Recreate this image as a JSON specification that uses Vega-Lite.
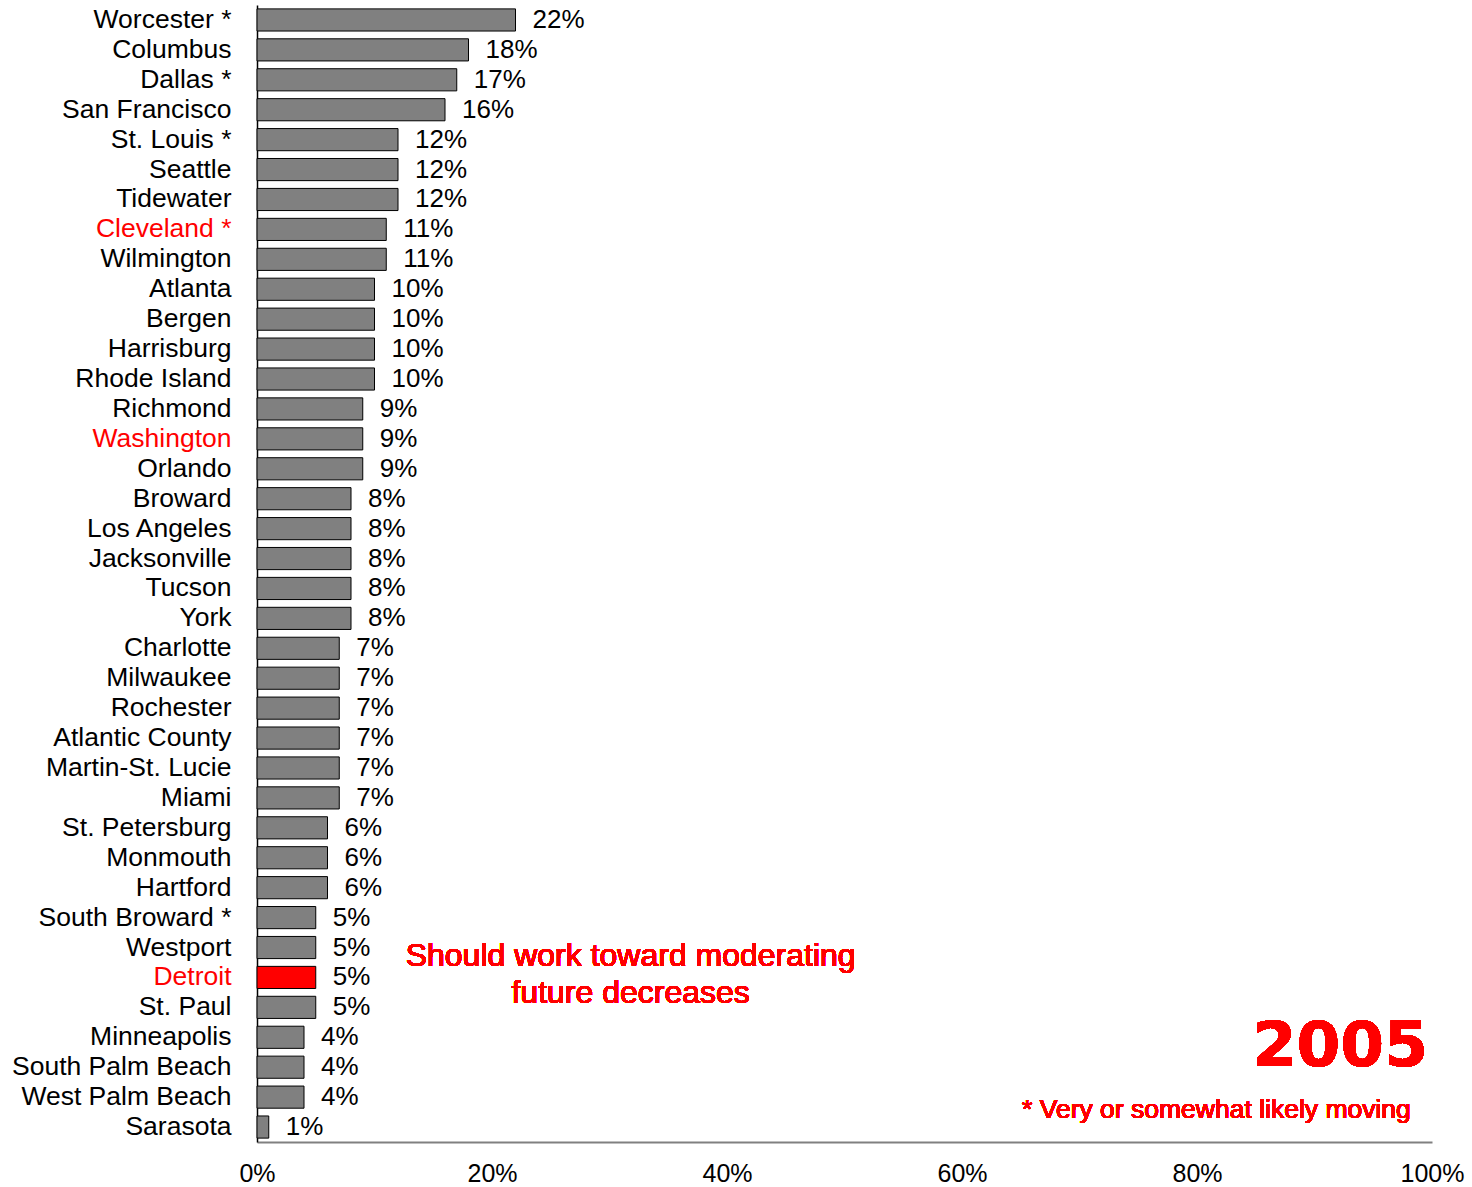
{
  "$schema": "https://vega.github.io/schema/vega-lite/v6.json",
  "autosize": {"type": "none"},
  "padding": {"left": 257, "top": 5, "right": 40, "bottom": 45},
  "width": 1175,
  "height": 1137,
  "background": "white",
  "config": {"view": {"stroke": null}, "font": "Liberation Sans"},
  "data": {"values": [
    {"city": "Worcester *", "pct": 0.22},
    {"city": "Columbus", "pct": 0.18},
    {"city": "Dallas *", "pct": 0.17},
    {"city": "San Francisco", "pct": 0.16},
    {"city": "St. Louis *", "pct": 0.12},
    {"city": "Seattle", "pct": 0.12},
    {"city": "Tidewater", "pct": 0.12},
    {"city": "Cleveland *", "pct": 0.11},
    {"city": "Wilmington", "pct": 0.11},
    {"city": "Atlanta", "pct": 0.10},
    {"city": "Bergen", "pct": 0.10},
    {"city": "Harrisburg", "pct": 0.10},
    {"city": "Rhode Island", "pct": 0.10},
    {"city": "Richmond", "pct": 0.09},
    {"city": "Washington", "pct": 0.09},
    {"city": "Orlando", "pct": 0.09},
    {"city": "Broward", "pct": 0.08},
    {"city": "Los Angeles", "pct": 0.08},
    {"city": "Jacksonville", "pct": 0.08},
    {"city": "Tucson", "pct": 0.08},
    {"city": "York", "pct": 0.08},
    {"city": "Charlotte", "pct": 0.07},
    {"city": "Milwaukee", "pct": 0.07},
    {"city": "Rochester", "pct": 0.07},
    {"city": "Atlantic County", "pct": 0.07},
    {"city": "Martin-St. Lucie", "pct": 0.07},
    {"city": "Miami", "pct": 0.07},
    {"city": "St. Petersburg", "pct": 0.06},
    {"city": "Monmouth", "pct": 0.06},
    {"city": "Hartford", "pct": 0.06},
    {"city": "South Broward *", "pct": 0.05},
    {"city": "Westport", "pct": 0.05},
    {"city": "Detroit", "pct": 0.05},
    {"city": "St. Paul", "pct": 0.05},
    {"city": "Minneapolis", "pct": 0.04},
    {"city": "South Palm Beach", "pct": 0.04},
    {"city": "West Palm Beach", "pct": 0.04},
    {"city": "Sarasota", "pct": 0.01}
  ]},
  "encoding": {
    "y": {
      "field": "city", "type": "nominal", "sort": null,
      "scale": {"paddingInner": 0.26, "paddingOuter": 0.13},
      "axis": {
        "title": null, "ticks": false, "domainColor": "black", "domainWidth": 1.5,
        "labelFontSize": 26.5, "labelPadding": 26, "labelLimit": 300,
        "labelColor": {"condition": {"test": "indexof(['Cleveland *','Washington','Detroit'], datum.value) >= 0", "value": "#ff0000"}, "value": "black"}
      }
    }
  },
  "layer": [
    {
      "mark": {"type": "bar", "stroke": "black", "strokeWidth": 1},
      "encoding": {
        "x": {
          "field": "pct", "type": "quantitative",
          "scale": {"domain": [0, 1], "nice": false},
          "axis": {
            "title": null, "grid": false, "ticks": false, "values": [0, 0.2, 0.4, 0.6, 0.8, 1],
            "format": ".0%", "labelFontSize": 25, "labelColor": "black",
            "labelPadding": 19, "labelFlush": false, "labelBound": false,
            "domainColor": "#808080", "domainWidth": 2
          }
        },
        "color": {
          "condition": {"test": "datum.city === 'Detroit'", "value": "#ff0000"},
          "value": "#808080"
        }
      }
    },
    {
      "mark": {"type": "text", "align": "left", "baseline": "middle", "dx": 17, "fontSize": 26, "fill": "black"},
      "encoding": {
        "x": {"field": "pct", "type": "quantitative"},
        "text": {"field": "pct", "type": "quantitative", "format": ".0%"}
      }
    },
    {
      "mark": {"type": "text", "align": "center", "baseline": "middle", "fontSize": 32, "fill": "#ff0000", "strokeWidth": 0, "lineHeight": 37, "dy": -21},
      "encoding": {
        "x": {"datum": 0.318, "type": "quantitative"},
        "y": {"datum": "Detroit", "type": "nominal"},
        "text": {"value": ["Should work toward moderating", "future decreases"]}
      }
    },
    {
      "mark": {"type": "text", "align": "right", "baseline": "middle", "fontSize": 63, "fontWeight": "bold", "font": "DejaVu Sans", "fill": "#ff0000", "strokeWidth": 0, "dy": 10, "dx": -4},
      "encoding": {
        "x": {"datum": 1, "type": "quantitative"},
        "y": {"datum": "Minneapolis", "type": "nominal"},
        "text": {"value": "2005"}
      }
    },
    {
      "mark": {"type": "text", "align": "right", "baseline": "middle", "fontSize": 26.5, "fill": "#ff0000", "strokeWidth": 0, "dy": 13},
      "encoding": {
        "x": {"datum": 0.982, "type": "quantitative"},
        "y": {"datum": "West Palm Beach", "type": "nominal"},
        "text": {"value": "* Very or somewhat likely moving"}
      }
    }
  ]
}
